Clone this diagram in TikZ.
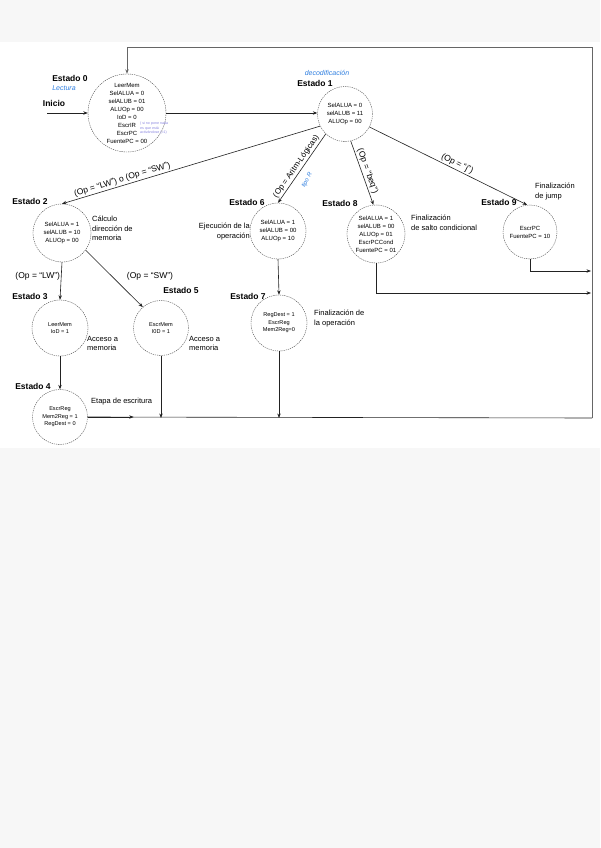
\documentclass[tikz,border=0pt]{standalone}
\usepackage{fontspec}
\setmainfont{Liberation Sans}
\usetikzlibrary{arrows.meta}
\definecolor{hand}{HTML}{2F7FE0}
\definecolor{note}{HTML}{8A86E0}
\definecolor{edge}{HTML}{222222}
\begin{document}
\begin{tikzpicture}[x=1pt,y=-1pt,
  state/.style={circle,draw=black!70,line width=0.4pt,dash pattern=on 1.3pt off 0.9pt,inner sep=0pt,align=center,font=\fontsize{6}{8}\selectfont},
  ttl/.style={font=\bfseries\fontsize{8.5}{10}\selectfont,inner sep=0pt},
  cmt/.style={font=\fontsize{7.5}{9.5}\selectfont,inner sep=0pt},
  elab/.style={font=\fontsize{8.5}{10}\selectfont,inner sep=1.5pt},
  hw/.style={font=\itshape\fontsize{7}{7}\selectfont,text=hand,inner sep=0pt},
  arr/.style={draw=edge,line width=0.6pt,-{Stealth[length=4.5pt,width=3.4pt]}},
  ln/.style={draw=edge,line width=0.6pt},
  frame/.style={draw=black!60,line width=0.7pt}]
\fill[black!3] (0,0) rectangle (600,848);
\fill[white] (0,42) rectangle (600,448);
\useasboundingbox (0,0) rectangle (600,848);

% states
\node[state,minimum size=78pt] (e0) at (127,113) {LeerMem\\SelALUA = 0\\selALUB = 01\\ALUOp = 00\\IoD = 0\\EscrIR\\EscrPC\\FuentePC = 00};
\node[state,minimum size=55pt] (e1) at (345,114) {SelALUA = 0\\selALUB = 11\\ALUOp = 00};
\node[state,minimum size=58pt] (e2) at (62,233) {SelALUA = 1\\selALUB = 10\\ALUOp = 00};
\node[state,minimum size=56pt] (e6) at (278,231) {SelALUA = 1\\selALUB = 00\\ALUOp = 10};
\node[state,minimum size=58pt] (e8) at (376,234) {SelALUA = 1\\selALUB = 00\\ALUOp = 01\\EscrPCCond\\FuentePC = 01};
\node[state,minimum size=54pt] (e9) at (530,232) {EscrPC\\FuentePC = 10};
\node[state,minimum size=56pt,font=\fontsize{5.6}{7.5}\selectfont] (e3) at (60,328) {LeerMem\\IoD = 1};
\node[state,minimum size=55pt,font=\fontsize{5.6}{7.5}\selectfont] (e5) at (161,328) {EscrMem\\I0D = 1};
\node[state,minimum size=56pt,font=\fontsize{5.6}{7.5}\selectfont] (e7) at (279,323) {RegDest = 1\\EscrReg\\Mem2Reg=0};
\node[state,minimum size=55pt,font=\fontsize{5.6}{7.5}\selectfont] (e4) at (60,417) {EscrReg\\Mem2Reg = 1\\RegDest = 0};

% titles and comments
\node[ttl] (t0) at (70,78) {Estado 0};
\node[hw] (h0) at (64,88) {Lectura};
\node[ttl] (ini) at (54,103) {Inicio};
\node[hw] (h1) at (327,73) {decodificación};
\node[ttl] (t1) at (315,83) {Estado 1};
\node[ttl] (t2) at (30,201) {Estado 2};
\node[cmt,anchor=north west,align=left] (c2) at (92,216) {Cálculo\\dirección de\\memoria};
\node[ttl] (t6) at (247,202) {Estado 6};
\node[cmt,anchor=north east,align=right] (c6) at (250,223) {Ejecución de la\\operación};
\node[ttl] (t8) at (340,203) {Estado 8};
\node[cmt,anchor=north west,align=left] (c8) at (411,215) {Finalización\\de salto condicional};
\node[ttl] (t9) at (499,202) {Estado 9};
\node[cmt,anchor=north west,align=left] (c9) at (535,183) {Finalización\\de jump};
\node[ttl] (t3) at (30,296) {Estado 3};
\node[ttl] (t5) at (181,290) {Estado 5};
\node[ttl] (t7) at (248,296) {Estado 7};
\node[cmt,anchor=north west,align=left] (c3) at (87,336) {Acceso a\\memoria};
\node[cmt,anchor=north west,align=left] (c5) at (189,336) {Acceso a\\memoria};
\node[cmt,anchor=north west,align=left] (c7) at (314,310) {Finalización de\\la operación};
\node[ttl] (t4) at (33,386) {Estado 4};
\node[cmt,anchor=north west] (c4) at (91,398) {Etapa de escritura};
\node[font=\fontsize{3.6}{4.2}\selectfont,text=note,align=left,anchor=north west,inner sep=0pt] (nt) at (140,122) {( si no pone nada\\es que está\\activándose (=1)};
\node[hw,rotate=62,font=\itshape\fontsize{6}{6}\selectfont] (h6) at (307,180) {tipo R};

% coordinates
\coordinate (ini0) at (47,113);
\coordinate (cr) at (592,418);
\coordinate (tr) at (592,47);
\coordinate (tl) at (127,47);
\coordinate (j8) at (591,293);
\coordinate (j9) at (591,271);

% connectors
\draw[arr] (ini0) -- (ini0 -| e0.west);
\draw[arr] (e0.east) -- (e0.east -| e1.west);
\draw[arr] (e1.206) -- node[elab,pos=0.76,sloped,above] {(Op = “LW”) o (Op = “SW”)} (e2.north);
\draw[arr] (e1.226) -- node[elab,pos=0.52,sloped,above,font=\fontsize{8}{9.5}\selectfont] {(Op = Aritm-Lógicas)} (e6.north);
\draw[arr] (e1.282) -- node[elab,pos=0.5,sloped,above] {(Op = “beq”)} (e8.95);
\draw[arr] (e1.332) -- node[elab,pos=0.54,sloped,above] {(Op = “j”)} (e9.96);
\draw[arr] (e2.south) -- node[elab,pos=0.37,left,inner sep=1pt] {(Op = “LW”)} (e3.north);
\draw[arr] (e2.-36) -- (e5.131);
\node[elab] (lsw) at (150,276) {(Op = “SW”)};
\draw[arr] (e3.south) -- (e4.north);
\draw[arr] (e6.south) -- (e7.north);
\draw[arr] (e7.south) -- (e7.south |- cr);
\draw[arr] (e5.south) -- (e5.south |- cr);
\draw[arr] (e8.south) |- (j8);
\draw[arr] (e9.south) |- (j9);
\draw[ln] (e4.east) -- (cr);
\draw[arr] (e4.east) -- ++(46,0);
\draw[frame,-{Stealth[length=4.5pt,width=3.4pt]}] (cr) -- (tr) -- (tl) -- (e0.north);
\end{tikzpicture}
\end{document}
